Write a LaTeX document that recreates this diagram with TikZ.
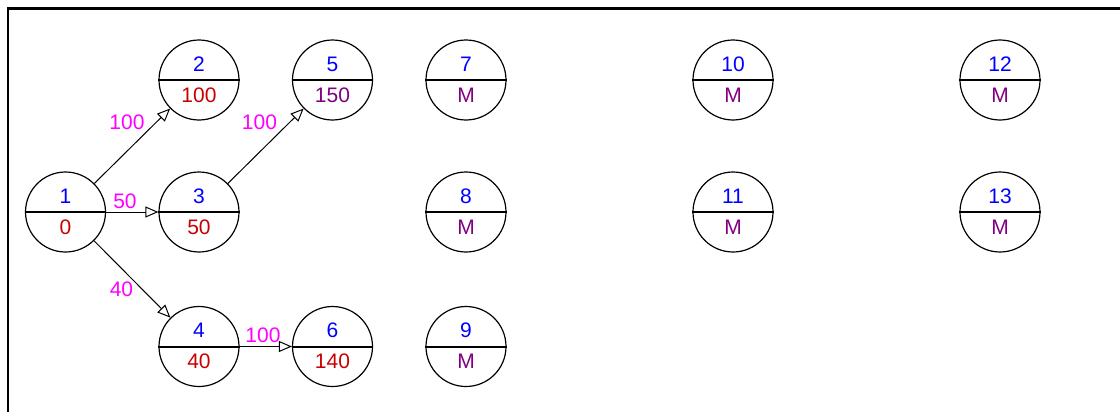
\documentclass[tikz,border=0pt]{standalone}
\usepackage{fontspec}
\setmainfont{Liberation Sans}
\usetikzlibrary{arrows.meta}
\definecolor{evblue}{HTML}{0000FF}
\definecolor{evred}{HTML}{C80000}
\definecolor{evpurple}{HTML}{800080}
\definecolor{evpink}{HTML}{FF00FF}
\begin{document}
\begin{tikzpicture}[x=0.5pt, y=-0.5pt,
    evt/.style={circle, draw, line width=0.6pt, minimum size=40pt, inner sep=0pt},
    cut/.style={line width=1pt},
    numtxt/.style={font=\fontsize{10.5}{12}\selectfont, text=evblue, inner sep=0pt},
    valtxt/.style={font=\fontsize{10.5}{12}\selectfont, inner sep=0pt},
    wt/.style={font=\fontsize{10.5}{12}\selectfont, text=evpink, inner sep=0pt},
    dep/.style={line width=0.5pt, -{Triangle[open, length=6.5pt, width=5.5pt]}}]
        \useasboundingbox (0,0) rectangle (1120,412);
        % frame (left and top only)
        \draw[line width=1.3pt] (8,412) -- (8,8.5) -- (1120,8.5);
        % EVENTS: number / x / y / earliest time / colour
        \foreach \n/\x/\y/\v/\c in {1/65.5/212/0/evred, 2/199/80/100/evred, 3/199/212/50/evred,
                4/199/346.5/40/evred, 5/332.5/80/150/evpurple, 6/332.5/346.5/140/evred,
                7/466/80/M/evpurple, 8/466/212/M/evpurple, 9/466/346.5/M/evpurple,
                10/733/80/M/evpurple, 11/733/212/M/evpurple,
                12/1000/80/M/evpurple, 13/1000/212/M/evpurple} {
            \node[evt] (n\n) at (\x,\y) {};
            \draw[cut] (n\n.west) -- (n\n.east);
            \node[numtxt] (t\n) at (\x,\y-16) {\n};
            \node[valtxt, text=\c] (v\n) at (\x,\y+15) {\v};
        }
        % ACTIVITIES
        \draw[dep] (n1) -- (n2);
        \draw[dep] (n1) -- (n3);
        \draw[dep] (n1) -- (n4);
        \draw[dep] (n3) -- (n5);
        \draw[dep] (n4) -- (n6);
        % durations
        \node[wt] (w12) at (127,122) {100};
        \node[wt] (w13) at (125,201) {50};
        \node[wt] (w14) at (121.5,289) {40};
        \node[wt] (w35) at (259.5,122) {100};
        \node[wt] (w46) at (263,335) {100};
\end{tikzpicture}
\end{document}
